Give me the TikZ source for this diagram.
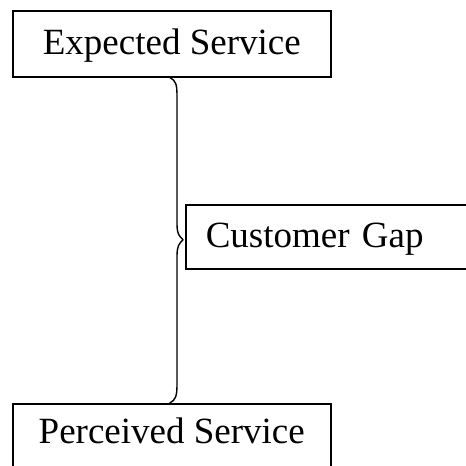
\documentclass[tikz,border=0pt]{standalone}
\usepackage{fontspec}
\setmainfont{Liberation Serif}
\begin{document}
\begin{tikzpicture}[x=1pt,y=-1pt,
  box/.style={draw, line width=1.5pt, inner xsep=0pt, inner ysep=0pt,
    font=\fontsize{37}{44}\selectfont, anchor=north west},
  brace/.style={line width=1.4pt, line cap=round, line join=round}]
\useasboundingbox (0,0) rectangle (466,466);
\node[box, minimum width=318pt, minimum height=66pt, text height=30pt, text depth=8pt]
  (exp) at (12,10) {Expected Service};
\node[box, minimum height=64pt, inner xsep=20pt, text width=300pt, align=left,
  text height=30pt, text depth=8pt]
  (gap) at (185,204) {Customer Gap};
\node[box, minimum width=318pt, minimum height=66pt, text height=26pt, text depth=12pt]
  (perc) at (12,403) {Perceived Service};
\coordinate (tip) at ([xshift=-2pt,yshift=-3pt]gap.west);
\draw[brace] ([xshift=-2pt]exp.south) .. controls +(6,3) and +(0,-12) .. (177,96)
  -- (177,224) .. controls +(0,10) and +(-4,-4) .. (tip)
  .. controls +(-4,4) and +(0,-10) .. (177,256)
  -- (177,384) .. controls +(0,12) and +(6,-3) .. ([xshift=-2pt]perc.north);
\end{tikzpicture}
\end{document}
